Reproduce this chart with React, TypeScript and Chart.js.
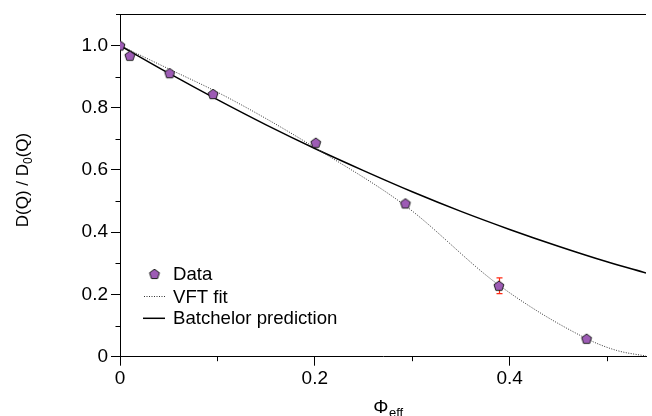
import React, { useEffect, useRef } from "react";
import { Chart, registerables } from "chart.js";

Chart.register(...registerables);

// Measured data (phi_eff, D(Q)/D0(Q))
const dataPhi = [0, 0.0101, 0.051, 0.0956, 0.201, 0.293, 0.389, 0.479];
const dataD = [1.0, 0.967, 0.911, 0.844, 0.6875, 0.4925, 0.228, 0.0576];
const dataErr = [0, 0, 0, 0, 0, 0, 0.025, 0];

// VFT fit curve
const vftPhi = [0, 0.05, 0.1, 0.15, 0.2, 0.293, 0.389, 0.479, 0.51, 0.54];
const vftD = [1.0, 0.925, 0.85, 0.765, 0.672, 0.485, 0.23, 0.058, 0.02, 0.002];

// Batchelor prediction curve
const batPhi = [0, 0.05, 0.1, 0.15, 0.2, 0.25, 0.3, 0.35, 0.4, 0.45, 0.5, 0.54];
const batD = [1.0, 0.911, 0.826, 0.745, 0.669, 0.598, 0.53, 0.467, 0.409, 0.355, 0.305, 0.269];

const xTicks = [0, 0.1, 0.2, 0.3, 0.4, 0.5];
const yTicks = [0, 0.1, 0.2, 0.3, 0.4, 0.5, 0.6, 0.7, 0.8, 0.9, 1.0];
const legendLabels = ["Data", "VFT fit", "Batchelor prediction"];
const xTitleMain = "\u03A6";
const xTitleSub = "eff";
const yTitleParts = ["D(Q) / D", "0", "(Q)"];

const FONT = '"Liberation Sans", Arial, Helvetica, sans-serif';
const PURPLE = "#9d5bb5";

function makePentagon(): HTMLCanvasElement {
  const c = document.createElement("canvas");
  c.width = 14;
  c.height = 14;
  const g = c.getContext("2d")!;
  const r = 5.2;
  const cx = 7;
  const cy = 7.4;
  g.beginPath();
  for (let k = 0; k < 5; k++) {
    const a = -Math.PI / 2 + (k * 2 * Math.PI) / 5;
    const px = cx + r * Math.cos(a);
    const py = cy + r * Math.sin(a);
    if (k === 0) g.moveTo(px, py);
    else g.lineTo(px, py);
  }
  g.closePath();
  g.fillStyle = PURPLE;
  g.fill();
  g.lineWidth = 1;
  g.strokeStyle = "#1a1a1a";
  g.stroke();
  return c;
}

const isMajor = (v: number) => Math.round(v * 10) % 2 === 0;
const fmt = (v: number) => {
  const r = Math.round(v * 10);
  if (r % 2 !== 0) return "";
  return r === 0 ? "0" : (r / 10).toFixed(1);
};

export default function App() {
  const ref = useRef<HTMLCanvasElement | null>(null);

  useEffect(() => {
    if (!ref.current) return;
    const pent = makePentagon();

    const extras = {
      id: "extras",
      beforeDatasetDraw(chart: any, args: any) {
        if (args.index !== 0) return;
        const ctx = chart.ctx;
        const xs = chart.scales.x;
        const ys = chart.scales.y;
        ctx.save();
        ctx.strokeStyle = "#ff2a14";
        ctx.lineWidth = 1.2;
        dataErr.forEach((e, i) => {
          if (!e) return;
          const px = Math.round(xs.getPixelForValue(dataPhi[i])) + 0.5;
          const y1 = ys.getPixelForValue(dataD[i] + e);
          const y2 = ys.getPixelForValue(dataD[i] - e);
          ctx.beginPath();
          ctx.moveTo(px, y1);
          ctx.lineTo(px, y2);
          ctx.moveTo(px - 3, y1);
          ctx.lineTo(px + 3, y1);
          ctx.moveTo(px - 3, y2);
          ctx.lineTo(px + 3, y2);
          ctx.stroke();
        });
        ctx.restore();
      },
      afterDraw(chart: any) {
        const ctx = chart.ctx;
        const ca = chart.chartArea;
        const xs = chart.scales.x;
        const ys = chart.scales.y;
        ctx.save();
        // top frame line
        ctx.strokeStyle = "#000";
        ctx.lineWidth = 1;
        ctx.beginPath();
        ctx.moveTo(ca.left - 4, Math.round(ca.top) + 0.5);
        ctx.lineTo(ca.right, Math.round(ca.top) + 0.5);
        ctx.stroke();
        // minor ticks
        ctx.beginPath();
        xTicks.forEach((v) => {
          if (isMajor(v)) return;
          const px = Math.round(xs.getPixelForValue(v)) + 0.5;
          ctx.moveTo(px, ca.bottom);
          ctx.lineTo(px, ca.bottom + 4.5);
        });
        yTicks.forEach((v) => {
          if (isMajor(v)) return;
          const py = Math.round(ys.getPixelForValue(v)) + 0.5;
          ctx.moveTo(ca.left - 4.5, py);
          ctx.lineTo(ca.left, py);
        });
        ctx.stroke();

        // axis titles
        ctx.fillStyle = "#000";
        ctx.textBaseline = "alphabetic";
        ctx.textAlign = "left";
        // x title
        ctx.font = `19px ${FONT}`;
        const wMain = ctx.measureText(xTitleMain).width;
        ctx.font = `13px ${FONT}`;
        const wSub = ctx.measureText(xTitleSub).width;
        const xc = (ca.left + ca.right) / 2 + 5;
        const x0 = xc - (wMain + wSub) / 2;
        ctx.font = `19px ${FONT}`;
        ctx.fillText(xTitleMain, x0, 413);
        ctx.font = `13px ${FONT}`;
        ctx.fillText(xTitleSub, x0 + wMain + 0.5, 416.5);

        // y title (rotated)
        ctx.save();
        ctx.translate(28, 180);
        ctx.rotate(-Math.PI / 2);
        const big = `17px ${FONT}`;
        const small = `12px ${FONT}`;
        ctx.font = big;
        const w0 = ctx.measureText(yTitleParts[0]).width;
        const w2 = ctx.measureText(yTitleParts[2]).width;
        ctx.font = small;
        const w1 = ctx.measureText(yTitleParts[1]).width;
        let tx = -(w0 + w1 + w2) / 2;
        ctx.font = big;
        ctx.fillText(yTitleParts[0], tx, 0);
        tx += w0;
        ctx.font = small;
        ctx.fillText(yTitleParts[1], tx, 3.5);
        tx += w1;
        ctx.font = big;
        ctx.fillText(yTitleParts[2], tx, 0);
        ctx.restore();

        // legend
        const L = ca.left;
        const B = ca.bottom;
        const rows = [B - 82.7, B - 60.3, B - 38.4];
        ctx.font = `18.6px ${FONT}`;
        ctx.textBaseline = "middle";
        // Data marker
        ctx.drawImage(pent, L + 34.5 - 7, rows[0] - 7);
        // VFT line
        ctx.strokeStyle = "#333";
        ctx.lineWidth = 1;
        ctx.setLineDash([1, 1.5]);
        ctx.beginPath();
        ctx.moveTo(L + 24, Math.round(rows[1]) + 0.5);
        ctx.lineTo(L + 45, Math.round(rows[1]) + 0.5);
        ctx.stroke();
        ctx.setLineDash([]);
        // Batchelor line
        ctx.strokeStyle = "#000";
        ctx.lineWidth = 1.5;
        ctx.beginPath();
        ctx.moveTo(L + 23, rows[2]);
        ctx.lineTo(L + 45, rows[2]);
        ctx.stroke();
        ctx.fillStyle = "#000";
        legendLabels.forEach((t, i) => ctx.fillText(t, L + 53, rows[i] + 1));
        ctx.restore();
      },
    };

    const tickFont = { family: FONT, size: 19 };

    const chart = new Chart(ref.current, {
      type: "scatter",
      data: {
        datasets: [
          {
            label: legendLabels[0],
            data: dataPhi.map((x, i) => ({ x, y: dataD[i] })),
            pointStyle: pent as any,
            pointRadius: 5,
            showLine: false,
            backgroundColor: PURPLE,
            borderColor: "#000",
          },
          {
            label: legendLabels[1],
            data: vftPhi.map((x, i) => ({ x, y: vftD[i] })),
            showLine: true,
            borderColor: "#333",
            borderWidth: 1,
            borderDash: [1, 1.5],
            pointRadius: 0,
            cubicInterpolationMode: "monotone",
            fill: false,
          },
          {
            label: legendLabels[2],
            data: batPhi.map((x, i) => ({ x, y: batD[i] })),
            showLine: true,
            borderColor: "#000",
            borderWidth: 1.5,
            pointRadius: 0,
            cubicInterpolationMode: "monotone",
            fill: false,
          },
        ],
      },
      options: {
        animation: false,
        responsive: false,
        devicePixelRatio: 1,
        layout: { padding: { top: 12.7, right: 0, left: 0, bottom: 0 } },
        plugins: {
          legend: { display: false },
          tooltip: { enabled: false },
          title: { display: false },
        },
        scales: {
          x: {
            type: "linear",
            min: 0,
            max: 0.54,
            afterBuildTicks: (s: any) => {
              s.ticks = xTicks.map((v) => ({ value: v }));
            },
            afterFit: (s: any) => {
              s.height = 59.3;
            },
            ticks: {
              callback: (v: any) => fmt(Number(v)),
              font: tickFont,
              color: "#000",
              padding: 2,
              maxRotation: 0,
              autoSkip: false,
            },
            grid: {
              drawOnChartArea: false,
              drawTicks: true,
              tickLength: 9,
              tickWidth: 1,
              tickColor: (c: any) => (c.tick && isMajor(c.tick.value) ? "#000" : "rgba(0,0,0,0)"),
            },
            border: { color: "#000", width: 1 },
          },
          y: {
            type: "linear",
            min: 0,
            max: 1.1,
            afterBuildTicks: (s: any) => {
              s.ticks = yTicks.map((v) => ({ value: v }));
            },
            afterFit: (s: any) => {
              s.width = 120;
            },
            ticks: {
              callback: (v: any) => fmt(Number(v)),
              font: tickFont,
              color: "#000",
              padding: 3,
              autoSkip: false,
            },
            grid: {
              drawOnChartArea: false,
              drawTicks: true,
              tickLength: 9,
              tickWidth: 1,
              tickColor: (c: any) => (c.tick && isMajor(c.tick.value) ? "#000" : "rgba(0,0,0,0)"),
            },
            border: { color: "#000", width: 1 },
          },
        },
      },
      plugins: [extras],
    } as any);

    return () => chart.destroy();
  }, []);

  return (
    <div style={{ position: "fixed", left: 0, top: 0, width: 652, height: 416, background: "#fff" }}>
      <canvas ref={ref} width={652} height={416} style={{ display: "block" }} />
    </div>
  );
}
